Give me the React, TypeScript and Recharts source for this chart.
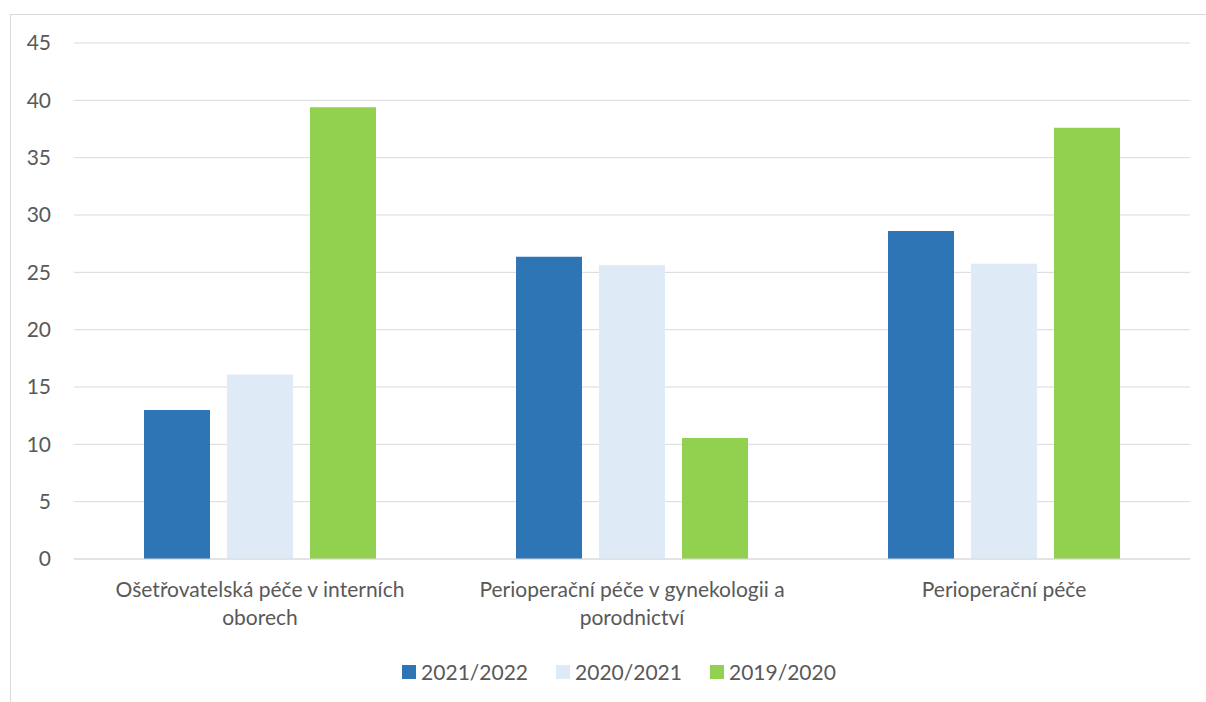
import { BarChart, Bar, XAxis, YAxis, CartesianGrid } from "recharts";

const categories = [
  "Ošetřovatelská péče v interních\noborech",
  "Perioperační péče v gynekologii a\nporodnictví",
  "Perioperační péče",
];
const seriesNames = ["2021/2022", "2020/2021", "2019/2020"];
const values2122 = [13.0, 26.35, 28.6];
const values2021 = [16.1, 25.65, 25.75];
const values1920 = [39.4, 10.55, 37.6];
const yTicks = [0, 5, 10, 15, 20, 25, 30, 35, 40, 45];

const COLORS = ["#2E75B6", "#DEEBF7", "#92D050"];
const TEXT = "#595959";
const GRID = "#D9D9D9";
const FONT = "Lato, 'Open Sans', sans-serif";

const data = categories.map((name, i) => ({
  name,
  s0: values2122[i],
  s1: values2021[i],
  s2: values1920[i],
}));

function CategoryTick({ x, y, payload }: any) {
  const lines = String(payload.value).split("\n");
  return (
    <g transform={`translate(${x},${y})`}>
      {lines.map((line, i) => (
        <text
          key={i}
          x={0}
          y={38 + i * 28}
          textAnchor="middle"
          fill={TEXT}
          fontSize={21}
          fontFamily={FONT}
        >
          {line}
        </text>
      ))}
    </g>
  );
}

export default function App() {
  return (
    <div style={{ position: "absolute", left: 0, top: 0, width: 1206, height: 702, background: "#fff", overflow: "hidden" }}>
      <div
        style={{
          position: "absolute",
          left: 10,
          top: 14,
          width: 1196,
          height: 688,
          borderTop: `1px solid ${GRID}`,
          borderLeft: `1px solid ${GRID}`,
        }}
      />
      <div style={{ position: "absolute", left: 0, top: 0 }}>
        <BarChart
          width={1206}
          height={702}
          data={data}
          margin={{ top: 43, right: 16, bottom: 0, left: 0 }}
          barSize={66}
          barGap={17}
        >
          <CartesianGrid vertical={false} stroke={GRID} />
          <XAxis
            dataKey="name"
            height={143}
            axisLine={{ stroke: GRID }}
            tickLine={false}
            tickSize={0}
            tickMargin={0}
            interval={0}
            tick={<CategoryTick />}
          />
          <YAxis
            width={74}
            domain={[0, 45]}
            ticks={yTicks}
            axisLine={false}
            tickLine={false}
            tickSize={0}
            tickMargin={23}
            tick={{ fill: TEXT, fontSize: 21, fontFamily: FONT }}
          />
          <Bar dataKey="s0" name={seriesNames[0]} fill={COLORS[0]} isAnimationActive={false} />
          <Bar dataKey="s1" name={seriesNames[1]} fill={COLORS[1]} isAnimationActive={false} />
          <Bar dataKey="s2" name={seriesNames[2]} fill={COLORS[2]} isAnimationActive={false} />
        </BarChart>
      </div>
      <div
        style={{
          position: "absolute",
          left: 0,
          width: 1206,
          top: 658,
          display: "flex",
          justifyContent: "center",
          gap: 28,
          fontFamily: FONT,
          fontSize: 21,
          color: TEXT,
          lineHeight: "28px",
          paddingLeft: 32,
          boxSizing: "border-box",
        }}
      >
        {seriesNames.map((s, i) => (
          <div key={s} style={{ display: "flex", alignItems: "center", gap: 5 }}>
            <span style={{ display: "inline-block", width: 14, height: 14, background: COLORS[i] }} />
            <span>{s}</span>
          </div>
        ))}
      </div>
    </div>
  );
}
